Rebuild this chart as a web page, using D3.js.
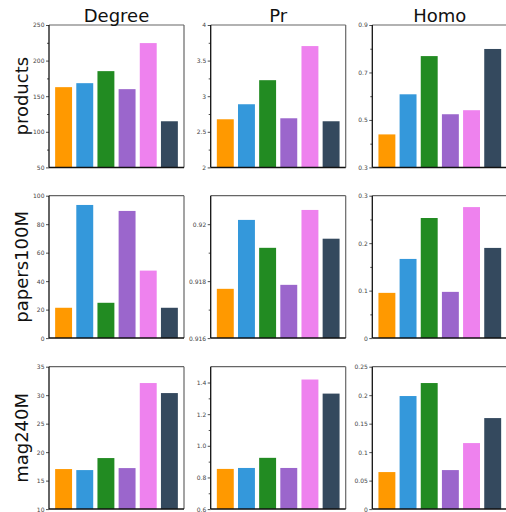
<!DOCTYPE html>
<html>
<head>
<meta charset="utf-8">
<script src="https://cdn.jsdelivr.net/npm/d3@7"></script>
<style>
  body { margin: 0; background: #fff; }
  svg { font-family: 'DejaVu Sans', sans-serif; }
</style>
</head>
<body>
<div id="chart"></div>
<script>
'use strict'

const methods = ['M1', 'M2', 'M3', 'M4', 'M5', 'M6']
const colors = ['#ff9900', '#3498db', '#228b22', '#9b66cc', '#ee82ee', '#34495e']
const metrics = ['Degree', 'Pr', 'Homo']
const datasets = ['products', 'papers100M', 'mag240M']

// values per dataset, per metric
const productsDegree = [162.7, 168.3, 185.2, 159.9, 224.6, 114.8]
const productsPr = [2.676, 2.887, 3.225, 2.69, 3.704, 2.648]
const productsHomo = [0.439, 0.608, 0.769, 0.524, 0.541, 0.799]
const papersDegree = [21.3, 93.5, 24.8, 89.3, 47.4, 21.3]
const papersPr = [0.91773, 0.92015, 0.91917, 0.91787, 0.9205, 0.91949]
const papersHomo = [0.0953, 0.1668, 0.253, 0.0974, 0.276, 0.19]
const magDegree = [17.03, 16.85, 18.96, 17.2, 32.13, 30.37]
const magPr = [0.854, 0.86, 0.924, 0.86, 1.419, 1.33]
const magHomo = [0.065, 0.1985, 0.2213, 0.0685, 0.1159, 0.1598]

// y ranges and ticks
const domains = [
  [[50, 250], [2, 4], [0.3, 0.9]],
  [[0, 100], [0.916, 0.921], [0, 0.3]],
  [[10, 35], [0.6, 1.5], [0, 0.25]]
]
const majorTicks = [
  [[50, 100, 150, 200, 250], [2, 2.5, 3, 3.5, 4], [0.3, 0.5, 0.7, 0.9]],
  [[0, 20, 40, 60, 80, 100], [0.916, 0.918, 0.92], [0, 0.1, 0.2, 0.3]],
  [[10, 15, 20, 25, 30, 35], [0.6, 0.8, 1.0, 1.2, 1.4], [0, 0.05, 0.1, 0.15, 0.2, 0.25]]
]
const minorTicks = [
  [[75, 125, 175, 225], [2.25, 2.75, 3.25, 3.75], [0.4, 0.6, 0.8]],
  [[], [0.917, 0.919], [0.05, 0.15, 0.25]],
  [[], [0.7, 0.9, 1.1, 1.3], []]
]
const tickFormats = [
  [String, String, String],
  [String, String, String],
  [String, d3.format('.1f'), String]
]

const values = [
  [productsDegree, productsPr, productsHomo],
  [papersDegree, papersPr, papersHomo],
  [magDegree, magPr, magHomo]
]

const width = 506
const height = 512
const colX = [49, 210.7, 372.3]
const rowY = [25, 195.7, 366.7]
const pw = 135
const ph = 142.4

const svg = d3.select('#chart')
  .append('svg')
  .attr('width', width)
  .attr('height', height)

const x = d3.scaleBand()
  .domain(methods)
  .range([0, pw])
  .paddingInner(0.2)
  .paddingOuter(0.29)

datasets.forEach(function(ds, r) {
  metrics.forEach(function(m, c) {
    const g = svg.append('g')
      .attr('transform', 'translate(' + colX[c] + ',' + rowY[r] + ')')

    const y = d3.scaleLinear()
      .domain(domains[r][c])
      .range([ph, 0])

    g.selectAll('rect.bar')
      .data(values[r][c])
      .enter()
      .append('rect')
      .attr('class', 'bar')
      .attr('x', (d, i) => x(methods[i]))
      .attr('width', x.bandwidth())
      .attr('y', d => y(d))
      .attr('height', d => y(domains[r][c][0]) - y(d))
      .attr('fill', (d, i) => colors[i])

    // minor ticks
    g.append('g')
      .call(d3.axisLeft(y).tickValues(minorTicks[r][c]).tickSize(2).tickFormat(''))
      .call(a => a.select('.domain').remove())
      .selectAll('line').attr('stroke', '#222').attr('stroke-width', 0.8)

    const ax = g.append('g')
      .call(d3.axisLeft(y).tickValues(majorTicks[r][c]).tickSize(3).tickPadding(1.5)
        .tickFormat(tickFormats[r][c]))
    ax.select('.domain').remove()
    ax.selectAll('line').attr('stroke', '#222').attr('stroke-width', 0.8)
    ax.selectAll('text')
      .attr('font-size', 6)
      .attr('fill', '#444')
      .attr('font-family', "'DejaVu Sans', sans-serif")

    // frame
    g.append('line').attr('x1', 0).attr('x2', pw).attr('y1', 0).attr('y2', 0)
      .attr('stroke', '#666').attr('stroke-width', 1.2)
    g.append('line').attr('x1', pw).attr('x2', pw).attr('y1', 0).attr('y2', ph)
      .attr('stroke', '#666').attr('stroke-width', 1.2)
    g.append('line').attr('x1', 0).attr('x2', 0).attr('y1', 0).attr('y2', ph)
      .attr('stroke', '#111').attr('stroke-width', 1.3)
    g.append('line').attr('x1', 0).attr('x2', pw).attr('y1', ph).attr('y2', ph)
      .attr('stroke', '#111').attr('stroke-width', 1.5)

    if (r === 0) {
      svg.append('text')
        .attr('x', colX[c] + pw / 2)
        .attr('y', 22)
        .attr('text-anchor', 'middle')
        .attr('font-size', 18)
        .attr('fill', '#111')
        .text(m)
    }
  })

  svg.append('text')
    .attr('transform', 'translate(28,' + (rowY[r] + ph / 2) + ') rotate(-90)')
    .attr('text-anchor', 'middle')
    .attr('font-size', 18)
    .attr('fill', '#111')
    .text(ds)
})
</script>
</body>
</html>
